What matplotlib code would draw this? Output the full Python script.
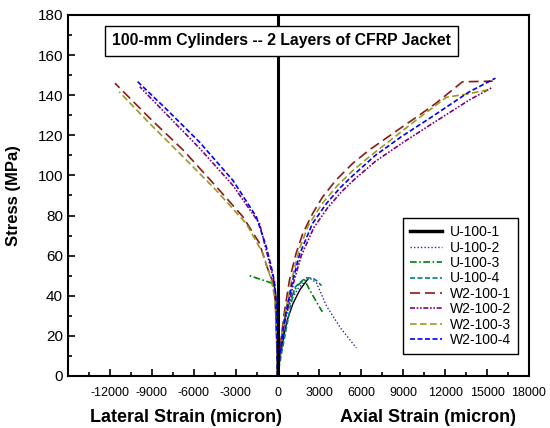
import matplotlib
matplotlib.use('Agg')
import matplotlib.pyplot as plt
from matplotlib.ticker import MultipleLocator

plt.rcParams['font.family'] = ['Liberation Sans', 'DejaVu Sans']
plt.rcParams['axes.unicode_minus'] = False

# strain in micron, stress in MPa; lateral strains are negative
names = ['U-100-1', 'U-100-2', 'U-100-3', 'U-100-4',
         'W2-100-1', 'W2-100-2', 'W2-100-3', 'W2-100-4']

lat_strain = {
    'U-100-1': [0, -30, -60, -100, -150, -250],
    'U-100-2': [0, -25, -55, -90, -140, -220],
    'U-100-3': [0, -20, -50, -90, -150, -300, -700, -2000],
    'U-100-4': [0, -30, -70, -120, -200, -350],
    'W2-100-1': [0, -30, -60, -100, -200, -400, -810, -1290, -2480, -4380, -6760, -9140, -11640],
    'W2-100-2': [0, -20, -45, -80, -130, -280, -690, -1290, -3190, -5570, -7950, -9860],
    'W2-100-3': [0, -30, -70, -110, -220, -450, -1050, -2240, -4380, -6760, -9140, -11330],
    'W2-100-4': [0, -20, -40, -70, -120, -250, -450, -810, -1520, -3190, -5570, -7950, -10140],
}
lat_stress = {
    'U-100-1': [0, 10, 20, 30, 40, 47],
    'U-100-2': [0, 10, 20, 30, 40, 48],
    'U-100-3': [0, 10, 20, 30, 40, 46, 47, 50],
    'U-100-4': [0, 10, 20, 30, 42, 48],
    'W2-100-1': [0, 10, 20, 30, 40, 48, 55.5, 66.2, 79.4, 94.4, 112.7, 128.5, 146],
    'W2-100-2': [0, 10, 20, 30, 40, 48, 59.5, 76, 95, 113.5, 130.5, 144.2],
    'W2-100-3': [0, 10, 20, 30, 40, 48, 61.2, 76, 92.5, 109.3, 125.8, 141.7],
    'W2-100-4': [0, 10, 20, 30, 40, 48, 54.5, 64.5, 79.4, 97.5, 116.5, 133, 147.6],
}

ax_strain = {
    'U-100-1': [0, 200, 450, 700, 1100, 1600, 2140],
    'U-100-2': [0, 150, 350, 600, 1000, 1500, 2290, 2790, 3500, 4500, 5640],
    'U-100-3': [0, 120, 300, 550, 900, 1400, 1930, 2290, 3000, 3210],
    'U-100-4': [0, 250, 500, 800, 1210, 1500, 2000, 2500, 2900, 3140],
    'W2-100-1': [0, 200, 450, 857, 1330, 1810, 2520, 3240, 4190, 5380, 6570, 7760, 8950,
                 10140, 11340, 13240, 15400],
    'W2-100-2': [0, 200, 550, 1200, 1700, 2600, 3600, 4600, 5500, 7000, 9000, 11000, 13700, 15400],
    'W2-100-3': [0, 200, 480, 1050, 1550, 2200, 3200, 4300, 5400, 6600, 7800, 10000, 12100,
                 13500, 15000],
    'W2-100-4': [0, 200, 500, 1100, 1600, 2500, 3500, 4500, 5400, 7000, 8900, 11000, 13700, 15600],
}
ax_stress = {
    'U-100-1': [0, 10, 20, 28, 36, 43, 48],
    'U-100-2': [0, 10, 20, 30, 38, 44, 48.9, 46.4, 35, 24, 14],
    'U-100-3': [0, 10, 20, 30, 38, 45, 48, 43, 34.4, 32],
    'U-100-4': [0, 10, 19, 30, 43.9, 46, 48.9, 48.9, 47, 45],
    'W2-100-1': [0, 15, 30, 47.9, 61.2, 71.1, 81.1, 89.4, 97.7, 106, 112.7, 118.5, 124.3,
                 130, 136, 146.7, 147],
    'W2-100-2': [0, 12, 28, 48, 60, 74, 84, 92, 98, 107, 116.5, 125.5, 137.5, 144],
    'W2-100-3': [0, 14, 29, 49, 63, 75, 86, 95, 102.5, 109.5, 116, 128, 139, 140.5, 142.6],
    'W2-100-4': [0, 13, 28, 48, 61, 76, 86, 94, 100, 110, 119.5, 129, 141.6, 148.5],
}

styles = {
    'U-100-1': dict(color='black', ls='-', lw=1.0),
    'U-100-2': dict(color='#2a2a9c', ls=(0, (1, 1.5)), lw=1.0),
    'U-100-3': dict(color='#008000', ls=(0, (4, 1.5, 1, 1.5)), lw=1.2),
    'U-100-4': dict(color='#008080', ls=(0, (3, 1.5)), lw=1.2),
    'W2-100-1': dict(color='#8b1a1a', ls=(0, (6, 3)), lw=1.2),
    'W2-100-2': dict(color='#800080', ls=(0, (3, 1, 1, 1, 1, 1)), lw=1.2),
    'W2-100-3': dict(color='#999922', ls=(0, (4, 2)), lw=1.2),
    'W2-100-4': dict(color='#0000ff', ls=(0, (3, 1.5)), lw=1.2),
}

fig = plt.figure(figsize=(5.5, 4.28), dpi=100)
ax = fig.add_axes([0.1236, 0.1215, 0.8382, 0.8435])

for n in names:
    ax.plot(lat_strain[n], lat_stress[n], **styles[n])
    ax.plot(ax_strain[n], ax_stress[n], label=n, **styles[n])

ax.axvline(0, color='black', lw=2.2, zorder=5)

ax.set_xlim(-15000, 18000)
ax.set_ylim(0, 180)
ax.set_xticks(range(-12000, 18001, 3000))
ax.xaxis.set_minor_locator(MultipleLocator(1500))
ax.yaxis.set_major_locator(MultipleLocator(20))
ax.yaxis.set_minor_locator(MultipleLocator(10))
ax.tick_params(which='both', direction='in', width=1.2)
ax.tick_params(which='major', length=5)
ax.tick_params(which='minor', length=3)
ax.tick_params(axis='x', labelsize=9, pad=8)
ax.tick_params(axis='y', labelsize=11)
for s in ax.spines.values():
    s.set_linewidth(1.5)

ax.set_ylabel('Stress (MPa)', fontsize=12, fontweight='bold')
ax.yaxis.set_label_coords(-0.102, 0.5)
fig.text(0.339, 0.0145, 'Lateral Strain (micron)', fontsize=13, fontweight='bold',
         ha='center', va='baseline')
fig.text(0.778, 0.0145, 'Axial Strain (micron)', fontsize=13, fontweight='bold',
         ha='center', va='baseline')

ax.text(0.464, 0.928, '100-mm Cylinders -- 2 Layers of CFRP Jacket', transform=ax.transAxes,
        ha='center', va='center', fontsize=11.3, fontweight='bold', zorder=10,
        bbox=dict(boxstyle='square,pad=0.45', fc='white', ec='black', lw=1.0))

leg = ax.legend(loc='lower right', bbox_to_anchor=(0.976, 0.061), borderaxespad=0,
                fontsize=10, fancybox=False, framealpha=1, edgecolor='black',
                handlelength=2.3, labelspacing=0.1, borderpad=0.5, handletextpad=0.55)
leg.get_frame().set_linewidth(1.0)
leg.get_lines()[0].set_linewidth(2.5)
leg.set_zorder(10)

fig.savefig('out.png', dpi=100)
